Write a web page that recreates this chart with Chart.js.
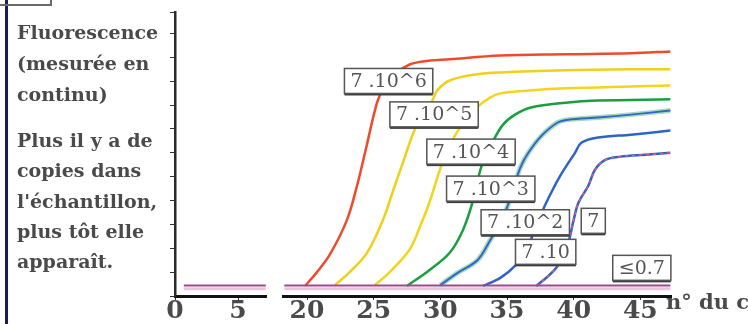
<!DOCTYPE html>
<html>
<head>
<meta charset="utf-8">
<script src="https://cdn.jsdelivr.net/npm/chart.js@4.4.1/dist/chart.umd.min.js"></script>
<style>
  html, body { margin: 0; padding: 0; background: #fff; width: 748px; height: 324px; overflow: hidden; }
  #wrap { position: relative; width: 748px; height: 324px; filter: blur(0.3px); }
  #chart { position: absolute; left: 0; top: 0; }
  .txt { position: absolute; left: 17px; font-family: "DejaVu Serif", serif; font-weight: bold; font-size: 19px; color: #4a4a4a; white-space: nowrap; }
  #t1 { top: 17px; line-height: 31px; }
  #t2 { top: 125px; line-height: 30.3px; }
  #unit { position: absolute; left: 666px; top: 289px; font-family: "DejaVu Serif", serif; font-weight: bold; font-size: 21px; color: #4a4a4a; white-space: nowrap; }
  #navy { position: absolute; left: 5px; top: 0; width: 3px; height: 324px; background: #1b1b58; }
  #corner { position: absolute; left: -4px; top: -20px; width: 54px; height: 22px; border: 2px solid #6a6a6a; border-left: none; }
</style>
</head>
<body>
<div id="wrap">
  <canvas id="chart" width="748" height="324"></canvas>
  <div id="navy"></div>
  <div id="corner"></div>
  <div class="txt" id="t1">Fluorescence<br>(mesurée en<br>continu)</div>
  <div class="txt" id="t2">Plus il y a de<br>copies dans<br>l'échantillon,<br>plus tôt elle<br>apparaît.</div>
  <div id="unit">n° du cycle</div>
</div>
<script>
// tick labels of the two parts of the broken x axis
const ticksLeft = [0, 5];
const ticksRight = [20, 25, 30, 35, 40, 45];

// curves: cycle number / fluorescence
const cycE6 = [19.85, 20.75, 21.73, 23.0, 23.75, 24.35, 25.25, 25.7, 26.6, 27.7, 28.7, 30.7, 34.5, 39.4, 44.3, 47.25];
const fluE6 = [0.42, 1.0, 1.75, 3.19, 4.62, 6.0, 8.1, 8.66, 9.3, 9.7, 9.83, 9.92, 10.08, 10.13, 10.17, 10.25];

const cycE5 = [22.1, 23.2, 24.5, 25.7, 26.45, 27.2, 28.1, 28.85, 29.4, 29.76, 30.7, 32.75, 34.5, 39.4, 44.3, 47.25];
const fluE5 = [0.46, 1.0, 1.81, 3.19, 4.4, 5.6, 7.0, 7.7, 8.19, 8.61, 9.03, 9.29, 9.37, 9.46, 9.5, 9.5];

const cycE4 = [25.1, 26.2, 27.7, 28.5, 29.2, 30.1, 31.1, 31.6, 32.75, 33.7, 34.5, 36.7, 39.4, 44.3, 47.25];
const fluE4 = [0.46, 1.0, 1.95, 2.94, 3.95, 5.5, 6.72, 7.14, 7.9, 8.3, 8.49, 8.61, 8.7, 8.78, 8.82];

const cycE3 = [27.5, 29.2, 30.7, 31.7, 32.4, 33.1, 33.9, 34.7, 35.6, 36.8, 39.4, 41.8, 47.25];
const fluE3 = [0.42, 1.09, 1.81, 2.77, 3.9, 5.46, 6.43, 7.18, 7.6, 7.9, 8.1, 8.19, 8.24];

const cycE2 = [30.0, 31.3, 32.8, 33.75, 34.5, 35.0, 35.5, 36.0, 36.6, 37.6, 38.8, 39.6, 41.85, 44.3, 47.25];
const fluE2 = [0.46, 0.97, 1.51, 2.35, 3.07, 3.7, 4.54, 5.38, 6.0, 6.72, 7.27, 7.39, 7.48, 7.6, 7.77];

const cycE1 = [33.2, 34.5, 35.6, 36.4, 37.0, 37.7, 38.2, 39.0, 40.1, 40.6, 41.85, 44.3, 47.25];
const fluE1 = [0.42, 0.76, 1.26, 1.89, 2.65, 3.61, 4.2, 5.04, 6.0, 6.43, 6.64, 6.76, 6.93];

const cycE0 = [37.2, 38.1, 38.7, 39.4, 39.75, 40.0, 40.35, 41.1, 41.6, 42.4, 43.5, 45.4, 47.25];
const fluE0 = [0.42, 0.84, 1.18, 1.81, 2.56, 3.19, 3.9, 4.62, 5.29, 5.71, 5.84, 5.92, 6.0];

// negative sample (< 0.7 copies): flat line on both parts of the axis
const cycNegLeft = [0.7, 7.2];
const cycNegRight = [18.3, 47.25];
const fluNeg = [0.44, 0.44];
const fluNegBand = [0.3, 0.3];

// boxed labels next to the curves
const boxText = ['7 .10^6', '7 .10^5', '7 .10^4', '7 .10^3', '7 .10^2', '7', '7 .10', '≤0.7'];
const boxCycle = [26.12, 29.53, 32.3, 33.78, 36.37, 41.47, 37.9, 45.11];
const boxLevel = [9.01, 7.61, 6.05, 4.5, 3.09, 3.15, 1.85, 1.18];

function pts(xs, ys) {
  return xs.map((x, i) => ({ x: x, y: ys[i] }));
}

function curve(xs, ys, color, width, axis, dash) {
  return {
    data: pts(xs, ys),
    xAxisID: axis || 'xb',
    yAxisID: 'y',
    borderColor: color,
    borderWidth: width,
    borderDash: dash || [],
    pointRadius: 0,
    tension: 0.35,
    fill: false
  };
}

const boxPlugin = {
  id: 'boxes',
  afterDatasetsDraw(chart) {
    const ctx = chart.ctx;
    const xs = chart.scales.xb;
    const ys = chart.scales.y;
    ctx.save();
    ctx.font = '19px "DejaVu Serif"';
    ctx.textAlign = 'center';
    ctx.textBaseline = 'middle';
    boxText.forEach((t, i) => {
      const cx = xs.getPixelForValue(boxCycle[i]);
      const cy = ys.getPixelForValue(boxLevel[i]);
      const w = ctx.measureText(t).width + 12;
      const h = 25;
      ctx.fillStyle = '#3a3a3a';
      ctx.fillRect(cx - w / 2, cy - h / 2 + 2, w, h);
      ctx.fillStyle = '#fff';
      ctx.fillRect(cx - w / 2, cy - h / 2, w, h);
      ctx.lineWidth = 1.5;
      ctx.strokeStyle = '#555';
      ctx.strokeRect(cx - w / 2, cy - h / 2, w, h);
      ctx.fillStyle = '#555';
      ctx.fillText(t, cx, cy + 1);
    });
    ctx.restore();
  }
};

const tickFont = { family: 'DejaVu Serif', size: 25, weight: 'bold' };

new Chart(document.getElementById('chart'), {
  type: 'line',
  data: {
    datasets: [
      curve(cycNegRight, fluNeg, '#9a4a8a', 2),
      curve(cycNegRight, fluNegBand, '#ecc3df', 3),
      curve(cycNegLeft, fluNeg, '#9a4a8a', 2, 'xa'),
      curve(cycNegLeft, fluNegBand, '#ecc3df', 3, 'xa'),
      curve(cycE0, fluE0, '#e85a7a', 1.5, 'xb', [3, 4]),
      curve(cycE6, fluE6, '#ee4b2b', 2.5),
      curve(cycE5, fluE5, '#f2cf1a', 2.5),
      curve(cycE4, fluE4, '#f4d41c', 2.5),
      curve(cycE3, fluE3, '#1a9f3e', 2.5),
      curve(cycE2, fluE2, '#3467c4', 2),
      curve(cycE1, fluE1, '#2f63c6', 2.5),
      curve(cycE0, fluE0, '#2f63c6', 2.5),
      curve(cycE2, fluE2, '#a6dcbc', 5)
    ]
  },
  options: {
    responsive: false,
    animation: false,
    layout: { padding: { left: 170, right: 77, top: 12, bottom: 2 } },
    plugins: { legend: { display: false }, tooltip: { enabled: false } },
    scales: {
      xa: {
        type: 'linear', position: 'bottom', stack: 'x', stackWeight: 91,
        min: 0, max: 7.22,
        afterBuildTicks: s => { s.ticks = ticksLeft.map(v => ({ value: v })); },
        border: { display: true, color: '#111', width: 3 },
        grid: { drawOnChartArea: false, drawTicks: true, tickLength: 4, color: '#333' },
        ticks: { font: tickFont, color: '#4a4a4a', padding: -4, maxRotation: 0 }
      },
      xgap: {
        type: 'linear', position: 'bottom', stack: 'x', stackWeight: 17,
        min: 0, max: 1,
        border: { display: false },
        grid: { display: false },
        ticks: { display: false }
      },
      xb: {
        type: 'linear', position: 'bottom', stack: 'x', stackWeight: 388,
        min: 18.2, max: 47.3,
        afterBuildTicks: s => { s.ticks = ticksRight.map(v => ({ value: v })); },
        border: { display: true, color: '#111', width: 3 },
        grid: { drawOnChartArea: false, drawTicks: true, tickLength: 4, color: '#333' },
        ticks: { font: tickFont, color: '#4a4a4a', padding: -4, maxRotation: 0 }
      },
      y: {
        type: 'linear', position: 'left',
        min: 0, max: 11.9,
        ticks: { display: false, stepSize: 1 },
        border: { display: true, color: '#2a2a2a', width: 2.5 },
        grid: { drawOnChartArea: false, drawTicks: true, tickLength: 5, color: '#333' }
      }
    }
  },
  plugins: [boxPlugin]
});
</script>
</body>
</html>
